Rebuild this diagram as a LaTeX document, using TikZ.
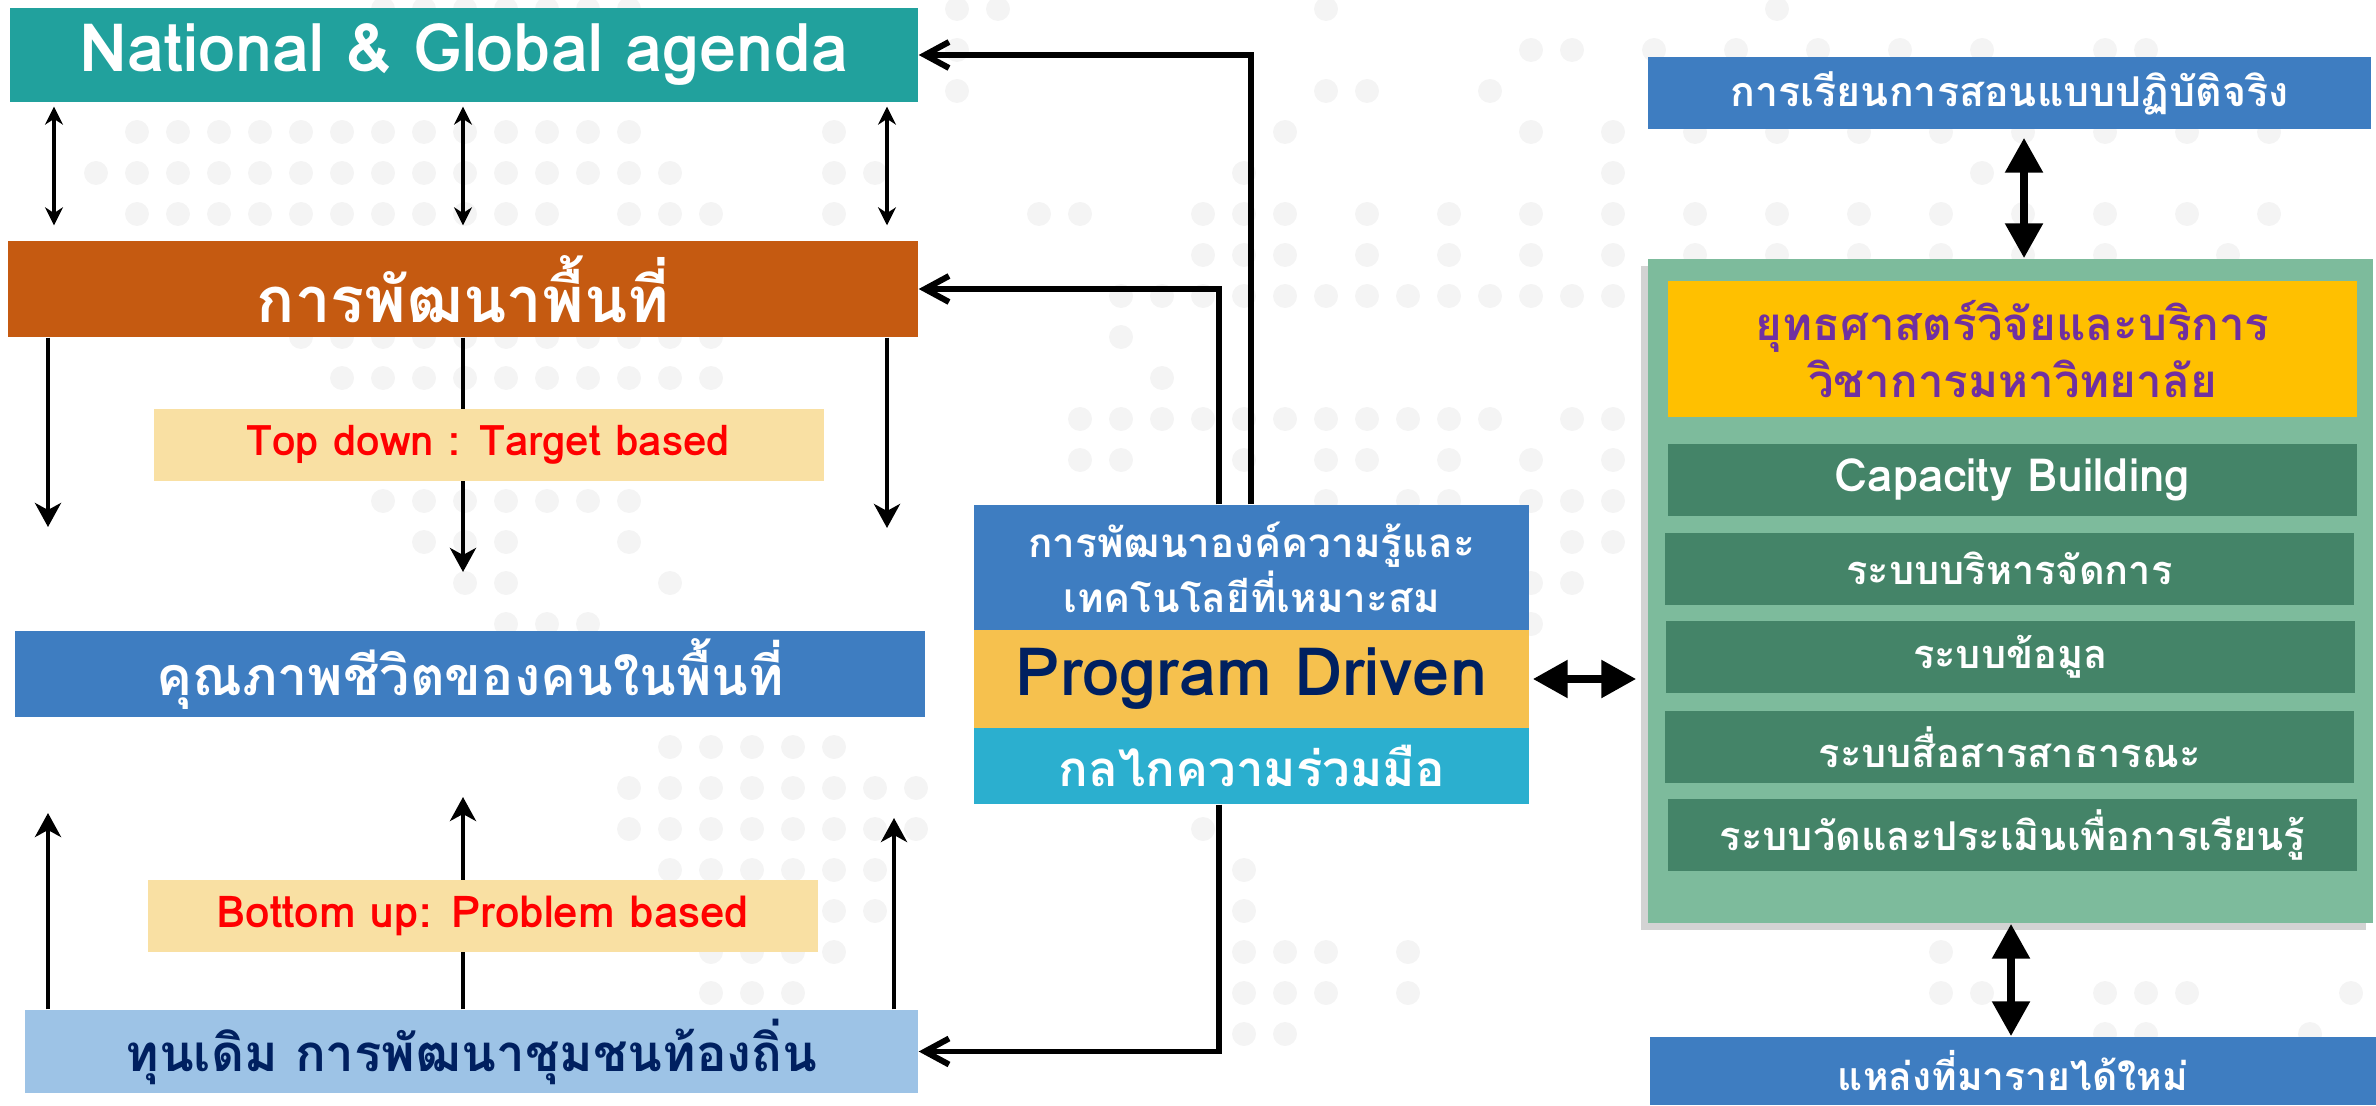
\documentclass[tikz,border=0pt]{standalone}
\usepackage{fontspec}
\setmainfont[Script=Thai]{Loma}
\usetikzlibrary{arrows.meta,shadows}
\definecolor{agendateal}{RGB}{33,161,157}
\definecolor{areaorange}{RGB}{197,90,17}
\definecolor{notecream}{RGB}{249,224,163}
\definecolor{midblue}{RGB}{62,125,193}
\definecolor{paleblue}{RGB}{157,195,230}
\definecolor{navytext}{RGB}{0,32,96}
\definecolor{progyellow}{RGB}{246,193,78}
\definecolor{mechcyan}{RGB}{43,175,207}
\definecolor{unigreen}{RGB}{125,187,156}
\definecolor{unigold}{RGB}{255,192,0}
\definecolor{uniplum}{RGB}{112,48,160}
\definecolor{rowgreen}{RGB}{68,132,104}
\definecolor{mapdot}{RGB}{244,244,244}
\begin{document}
\begin{tikzpicture}[x=1cm, y=-1cm,
    box/.style={rectangle, inner sep=0pt, align=center, text=white},
    note/.style={box, fill=notecream, text=red, minimum width=6.7cm, minimum height=0.72cm},
    row/.style={box, fill=rowgreen, minimum width=6.89cm, minimum height=0.72cm, font=\bfseries\fontsize{11.3}{14}\selectfont},
    updown/.style={line width=1.2pt, {Stealth[length=1.8mm,width=1.8mm]}-{Stealth[length=1.8mm,width=1.8mm]}},
    flow/.style={line width=1.2pt, -{Stealth[length=2.4mm,width=2.6mm,inset=0.7mm]}},
    link/.style={line width=1.7pt, -{Straight Barb[length=2.4mm,width=2.6mm]}},
    bigarrow/.style={line width=2.4pt, {Triangle[length=3.5mm,width=3.6mm]}-{Triangle[length=3.5mm,width=3.6mm]}}]
    \useasboundingbox (0,0) rectangle (23.76,11.06);
    % Map dots in the background
    \foreach \j/\cols in {0/{9,...,15,23,24,32,43,...,46}, 1/{23,37,38,40,...,49,51,52}, 2/{23,32,33,36},
        3/{3,...,15,20,...,23,31,...,34,37,39,...,56}, 4/{2,...,16,20,21,30,...,56},
        5/{3,...,13,15,16,17,20,25,26,29,30,31,33,...,56}, 6/{29,30,31,33,...,52,54},
        7/{27,...,39}, 8/{7,...,17,27,...,39}, 9/{8,...,17,28,...,39}, 10/{26,...,36,38,39},
        11/{26,27,30,32,33,35,...,39}, 12/{9,...,15,32,34,35,37,38,39}, 13/{10,11,12,15,38,39},
        14/{11,12,16,37,38}, 15/{12,13,14,37}, 18/{16,...,20}, 19/{15,...,22}, 20/{15,...,22,29,...,33},
        21/{16,...,21,30,...,33}, 22/{20,21,30,...,33}, 23/{17,...,20,30,31,32,34,47,...,54},
        24/{17,18,19,30,31,32,34,47,48,51,52,53,57}, 25/{30,31,51,52,56}}
        \foreach \i in \cols
            \fill[mapdot] (0.14+0.41*\i, 0.09+0.41*\j) circle (0.12);
    % Left column
    \node[box, fill=agendateal, minimum width=9.08cm, minimum height=0.94cm, font=\bfseries\fontsize{19}{22}\selectfont] (agenda) at (4.64,0.55) {National \& Global agenda};
    \node[box, fill=areaorange, minimum width=9.1cm, minimum height=0.96cm, font=\bfseries\fontsize{18}{22}\selectfont] (area) at (4.63,2.89) {การพัฒนาพื้นที่};
    \node[box, fill=midblue, minimum width=9.1cm, minimum height=0.86cm, font=\bfseries\fontsize{15.3}{18}\selectfont] (quality) at (4.70,6.74) {คุณภาพชีวิตของคนในพื้นที่};
    \node[box, fill=paleblue, text=navytext, minimum width=8.93cm, minimum height=0.83cm, font=\bfseries\fontsize{14.5}{17}\selectfont] (capital) at (4.715,10.515) {ทุนเดิม การพัฒนาชุมชนท้องถิ่น};
    \foreach \x in {0.54,4.63,8.87}
        \draw[updown, shorten <=0.4mm, shorten >=1.5mm] (agenda.south -| \x,0) -- (area.north -| \x,0);
    \foreach \x/\y in {0.48/5.27, 4.63/5.72, 8.87/5.28}
        \draw[flow] (area.south -| \x,0) -- (\x,\y);
    \foreach \x/\y in {0.48/8.13, 4.63/7.97, 8.94/8.18}
        \draw[flow] (capital.north -| \x,0) -- (\x,\y);
    \node[note, font=\bfseries\fontsize{12}{14}\selectfont] (topdown) at (4.885,4.45) {Top down : Target based};
    \node[note, font=\bfseries\fontsize{12.5}{14}\selectfont] (bottomup) at (4.83,9.16) {Bottom up: Problem based};
    % Centre stack
    \node[box, fill=midblue, minimum width=5.55cm, minimum height=1.25cm, font=\bfseries\fontsize{11.5}{14}\selectfont] (knowledge) at (12.515,5.675) {การพัฒนาองค์ความรู้และ\\เทคโนโลยีที่เหมาะสม};
    \node[box, fill=progyellow, text=navytext, minimum width=5.55cm, minimum height=0.98cm, font=\bfseries\fontsize{19}{22}\selectfont] (program) at (12.515,6.79) {Program Driven};
    \node[box, fill=mechcyan, minimum width=5.55cm, minimum height=0.76cm, font=\bfseries\fontsize{14}{16}\selectfont] (mechanism) at (12.515,7.66) {กลไกความร่วมมือ};
    \draw[link] (knowledge.north -| 12.51,0) |- (agenda.east);
    \draw[link] (knowledge.north -| 12.19,0) |- (area.east);
    \draw[link] (mechanism.south -| 12.19,0) |- (capital.east);
    % Right column
    \node[box, fill=midblue, minimum width=7.23cm, minimum height=0.72cm, font=\bfseries\fontsize{11.7}{14}\selectfont] (practice) at (20.095,0.93) {การเรียนการสอนแบบปฏิบัติจริง};
    \node[box, fill=unigreen, minimum width=7.25cm, minimum height=6.64cm, drop shadow={shadow xshift=-0.7mm, shadow yshift=-0.7mm, opacity=0.35}] (uni) at (20.105,5.91) {};
    \node[box, fill=unigold, text=uniplum, minimum width=6.89cm, minimum height=1.36cm, font=\bfseries\fontsize{13}{16}\selectfont] (strategy) at (20.125,3.49) {ยุทธศาสตร์วิจัยและบริการ\\วิชาการมหาวิทยาลัย};
    \node[row, font=\bfseries\fontsize{13}{15}\selectfont] (capacity) at (20.125,4.80) {Capacity Building};
    \node[row] (admin) at (20.095,5.685) {ระบบบริหารจัดการ};
    \node[row] (data) at (20.105,6.57) {ระบบข้อมูล};
    \node[row] (comm) at (20.095,7.47) {ระบบสื่อสารสาธารณะ};
    \node[row] (assess) at (20.125,8.35) {ระบบวัดและประเมินเพื่อการเรียนรู้};
    \node[box, fill=midblue, minimum width=7.26cm, minimum height=0.68cm, font=\bfseries\fontsize{11.1}{13}\selectfont] (income) at (20.13,10.71) {แหล่งที่มารายได้ใหม่};
    \draw[bigarrow, shorten <=0.3mm, shorten >=1.1mm] (program.east) -- (program.east -| uni.west);
    \draw[bigarrow, shorten <=0.8mm] (practice.south -| 20.24,0) -- (uni.north -| 20.24,0);
    \draw[bigarrow] (uni.south -| 20.11,0) -- (income.north -| 20.11,0);
\end{tikzpicture}
\end{document}
